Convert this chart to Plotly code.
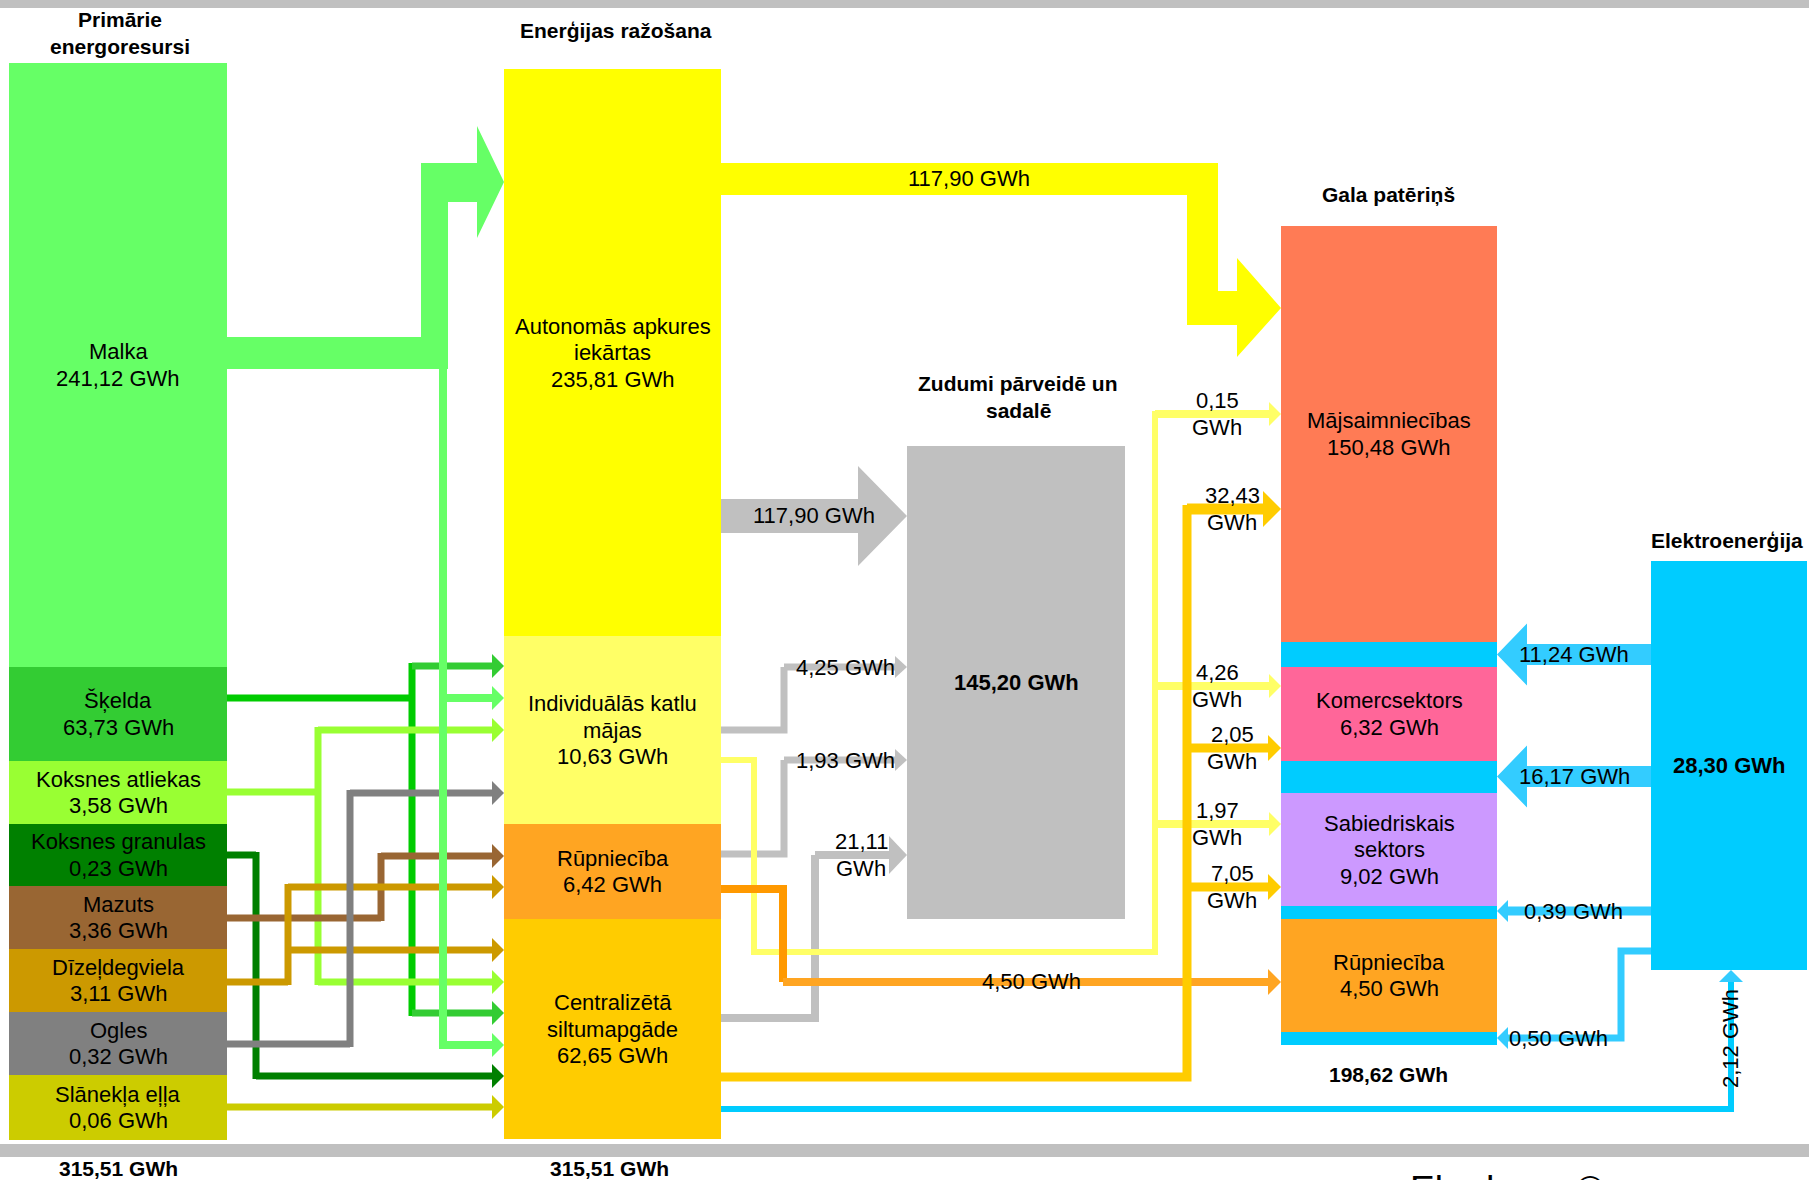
"""
Siltumenerģijas bilance - flow diagram (primary resources -> production -> final use)
drawn with Plotly shapes on a pixel-scaled axis pair.
"""

import plotly.graph_objects as go


# ---------------------------------------------------------------- data (GWh)
PRIMARY_NAMES = ["Malka", "Šķelda", "Koksnes atliekas", "Koksnes granulas",
                 "Mazuts", "Dīzeļdegviela", "Ogles", "Slānekļa eļļa"]
PRIMARY_GWH = [241.12, 63.73, 3.58, 0.23, 3.36, 3.11, 0.32, 0.06]
PRIMARY_TOTAL = 315.51

PRODUCTION_NAMES = ["Autonomās apkures<br>iekārtas", "Individuālās katlu<br>mājas",
                    "Rūpniecība", "Centralizētā<br>siltumapgāde"]
PRODUCTION_GWH = [235.81, 10.63, 6.42, 62.65]
PRODUCTION_TOTAL = 315.51

LOSSES_GWH = 145.20

FINAL_NAMES = ["Mājsaimniecības", "Komercsektors", "Sabiedriskais<br>sektors", "Rūpniecība"]
FINAL_GWH = [150.48, 6.32, 9.02, 4.50]
FINAL_TOTAL = 198.62

ELECTRICITY_GWH = 28.30

# flows
LOSS_FLOWS = [117.90, 4.25, 1.93, 21.11]      # Autonomās, Individuālās, Rūpniecība, Centralizētā -> zudumi
HOUSEHOLD_FLOW = 117.90                       # Autonomās -> Mājsaimniecības
INDIVIDUAL_FLOWS = [0.15, 4.26, 1.97]         # Individuālās -> Mājs., Komerc., Sabiedr.
DISTRICT_FLOWS = [32.43, 2.05, 7.05]          # Centralizētā -> Mājs., Komerc., Sabiedr.
INDUSTRY_FLOW = 4.50                          # Rūpniecība -> Rūpniecība
ELECTRICITY_FLOWS = [11.24, 16.17, 0.39, 0.50]
DISTRICT_TO_ELECTRICITY = 2.12

# ---------------------------------------------------------------- styles
PRIMARY_COLORS = ["#66FF66", "#33CC33", "#99FF33", "#008000",
                  "#996633", "#CC9900", "#808080", "#CCCC00"]
PRODUCTION_COLORS = ["#FFFF00", "#FFFF66", "#FFA522", "#FFCC00"]
FINAL_COLORS = ["#FF7B55", "#FF6699", "#CC99FF", "#FFA522"]
LOSS_COLOR = "#C0C0C0"
ELEC_COLOR = "#00CCFF"
ELEC_ARROW = "#33CCFF"
FONT = "Arial, Liberation Sans, sans-serif"
LABEL_SIZE = 22
TITLE_SIZE = 21
LINE_STEP = 26.5
W, H = 1809, 1180

# ---------------------------------------------------------------- geometry (px)
PRIMARY_X = (9, 227)
PRIMARY_EDGES = [63, 667, 761, 824, 886, 949, 1012, 1075, 1140]
PROD_X = (504, 721)
PROD_EDGES = [69, 636, 824, 919, 1139]
LOSS_BOX = (907, 1125, 446, 919)
FINAL_X = (1281, 1497)
FINAL_SPANS = [(226, 642), (667, 761), (793, 906), (919, 1032)]
FINAL_BOTTOM = 1045
ELEC_BOX = (1651, 1807, 561, 970)

# thin routes from primary column: (start y, trunk x, target ys, trunk colour, arrow colour)
PRIMARY_ROUTES = [
    (698, 412, [666, 1013], "#00CC00", "#33CC33"),
    (792, 318, [730, 982], "#99FF33", "#99FF33"),
    (855, 256, [1076], "#008000", "#008000"),
    (918, 381, [856], "#996633", "#996633"),
    (982, 288, [887, 950], "#CC9900", "#CC9900"),
    (1044, 350, [793], "#808080", "#808080"),
    (1107, None, [1107], "#CCCC00", "#CCCC00"),
]

shapes = []
notes = []


def fmt(v):
    return f"{v:.2f}".replace(".", ",") + " GWh"


def rect(x0, x1, y0, y1, color):
    shapes.append(dict(type="rect", xref="x", yref="y", x0=x0, x1=x1, y0=y0, y1=y1,
                       fillcolor=color, line=dict(width=0), layer="above"))


def poly(points, color):
    path = "M " + " L ".join(f"{x},{y}" for x, y in points) + " Z"
    shapes.append(dict(type="path", xref="x", yref="y", path=path,
                       fillcolor=color, line=dict(width=0), layer="above"))


def line(points, color, width):
    path = "M " + " L ".join(f"{x},{y}" for x, y in points)
    shapes.append(dict(type="path", xref="x", yref="y", path=path,
                       fillcolor="rgba(0,0,0,0)", line=dict(color=color, width=width),
                       layer="above"))


def head(x, y, color, length=12, half=12, direction="right"):
    if direction == "right":
        pts = [(x - length, y - half), (x, y), (x - length, y + half)]
    elif direction == "left":
        pts = [(x + length, y - half), (x, y), (x + length, y + half)]
    else:
        pts = [(x - half, y + length), (x, y), (x + half, y + length)]
    poly(pts, color)


def arrow_right(points, color, width, length=12, half=12):
    tip_x, tip_y = points[-1]
    line(points[:-1] + [(tip_x - length + 1, tip_y)], color, width)
    head(tip_x, tip_y, color, length, half)


def text(x, y, s, size=LABEL_SIZE, bold=False, anchor="center", angle=0, yanchor="middle"):
    # one annotation per line so the line spacing matches the original
    rows = s.split("<br>")
    for i, row in enumerate(rows):
        if bold:
            row = f"<b>{row}</b>"
        notes.append(dict(x=x, y=y + (i - (len(rows) - 1) / 2) * LINE_STEP,
                          xref="x", yref="y", text=row, showarrow=False,
                          xanchor=anchor, yanchor=yanchor, textangle=angle,
                          font=dict(family=FONT, size=size, color="black")))


# frame bars
rect(0, W, 0, 8, "#C0C0C0")
rect(0, W, 1144, 1157, "#C0C0C0")

# ---------------------------------------------------------------- columns
for i, (name, val) in enumerate(zip(PRIMARY_NAMES, PRIMARY_GWH)):
    y0, y1 = PRIMARY_EDGES[i], PRIMARY_EDGES[i + 1]
    rect(*PRIMARY_X, y0, y1, PRIMARY_COLORS[i])
    text(sum(PRIMARY_X) / 2, (y0 + y1) / 2, f"{name}<br>{fmt(val)}")

for i, (name, val) in enumerate(zip(PRODUCTION_NAMES, PRODUCTION_GWH)):
    y0, y1 = PROD_EDGES[i], PROD_EDGES[i + 1]
    rect(*PROD_X, y0, y1, PRODUCTION_COLORS[i])
    text(sum(PROD_X) / 2, (y0 + y1) / 2, f"{name}<br>{fmt(val)}")

lx0, lx1, ly0, ly1 = LOSS_BOX
rect(lx0, lx1, ly0, ly1, LOSS_COLOR)
text((lx0 + lx1) / 2, (ly0 + ly1) / 2, fmt(LOSSES_GWH), bold=True)

rect(*FINAL_X, FINAL_SPANS[0][0], FINAL_BOTTOM, ELEC_COLOR)
for i, (name, val) in enumerate(zip(FINAL_NAMES, FINAL_GWH)):
    y0, y1 = FINAL_SPANS[i]
    rect(*FINAL_X, y0, y1, FINAL_COLORS[i])
    text(sum(FINAL_X) / 2, (y0 + y1) / 2, f"{name}<br>{fmt(val)}")

ex0, ex1, ey0, ey1 = ELEC_BOX
rect(ex0, ex1, ey0, ey1, ELEC_COLOR)
text((ex0 + ex1) / 2, (ey0 + ey1) / 2, fmt(ELECTRICITY_GWH), bold=True)

# ---------------------------------------------------------------- primary -> production
px1 = PRIMARY_X[1]
tx = PROD_X[0]
for start, trunk, targets, c_trunk, c_arrow in PRIMARY_ROUTES:
    if trunk is None:
        arrow_right([(px1, start), (tx, start)], c_arrow, 7)
        continue
    line([(px1, start), (trunk, start)], c_trunk, 7)
    ys = targets + [start]
    line([(trunk, min(ys) - 3), (trunk, max(ys) + 3)], c_trunk, 7)
    for ty in targets:
        arrow_right([(trunk, ty), (tx, ty)], c_arrow, 7)

# Malka: thick band into Autonomās + thin branch down
poly([(227, 337), (421, 337), (421, 163), (477, 163), (477, 126), (504, 182),
      (477, 238), (477, 202), (448, 202), (448, 369), (227, 369)], PRIMARY_COLORS[0])
line([(443, 365), (443, 1049)], PRIMARY_COLORS[0], 8)
for ty in (698, 1045):
    arrow_right([(443, ty), (tx, ty)], PRIMARY_COLORS[0], 8)

# ---------------------------------------------------------------- production -> losses / final
# Autonomās -> Mājsaimniecības
poly([(721, 163), (1218, 163), (1218, 291), (1237, 291), (1237, 258), (1281, 308),
      (1237, 357), (1237, 325), (1187, 325), (1187, 195), (721, 195)], PRODUCTION_COLORS[0])
text(969, 178, fmt(HOUSEHOLD_FLOW))

# Autonomās -> zudumi
poly([(721, 499), (858, 499), (858, 466), (907, 516), (858, 566), (858, 533), (721, 533)],
     LOSS_COLOR)
text(814, 515, fmt(LOSS_FLOWS[0]))

# smaller loss lines
line([(721, 730), (784, 730), (784, 667)], LOSS_COLOR, 7)
arrow_right([(784, 667), (907, 667)], LOSS_COLOR, 7, 12, 11)
text(845, 667, fmt(LOSS_FLOWS[1]))
line([(721, 854), (784, 854), (784, 760)], LOSS_COLOR, 7)
arrow_right([(784, 760), (907, 760)], LOSS_COLOR, 7, 12, 11)
text(845, 760, fmt(LOSS_FLOWS[2]))
line([(721, 1018), (815, 1018), (815, 855)], LOSS_COLOR, 8)
arrow_right([(815, 855), (907, 855)], LOSS_COLOR, 8, 18, 19)
text(861, 855, fmt(LOSS_FLOWS[3]).replace(" ", "<br>"))

# Individuālās -> final
ind_c = PRODUCTION_COLORS[1]
line([(721, 760), (754, 760), (754, 952), (1155, 952), (1155, 411)], ind_c, 6)
for ty, v in zip((414, 686, 824), INDIVIDUAL_FLOWS):
    arrow_right([(1155, ty), (1281, ty)], ind_c, 8, 12, 12)
    text(1217, ty, fmt(v).replace(" ", "<br>"))

# Rūpniecība -> Rūpniecība
line([(721, 889), (783, 889), (783, 982)], "#FF9900", 8)
arrow_right([(783, 982), (1281, 982)], "#FFA522", 8, 13, 13)
text(1031, 981, fmt(INDUSTRY_FLOW))

# Centralizētā -> final
dis_c = PRODUCTION_COLORS[3]
line([(721, 1077), (1187, 1077), (1187, 505)], dis_c, 9)
for ty, v, size in zip((509, 748, 887), DISTRICT_FLOWS, (18, 13, 13)):
    arrow_right([(1187, ty), (1281, ty)], dis_c, 9 if size == 13 else 11, size, size)
    text(1232, ty, fmt(v).replace(" ", "<br>"))

# Centralizētā -> Elektroenerģija
line([(721, 1109), (1731, 1109), (1731, 980)], ELEC_COLOR, 6)
head(1731, 970, ELEC_ARROW, 12, 12, direction="up")
text(1730, 1039, fmt(DISTRICT_TO_ELECTRICITY), angle=-90)

# ---------------------------------------------------------------- electricity -> final
for (y0, y1), v in zip([(644, 665), (766, 787)], ELECTRICITY_FLOWS[:2]):
    mid = (y0 + y1) / 2
    poly([(1651, y0), (1527, y0), (1527, mid - 31), (1497, mid), (1527, mid + 31),
          (1527, y1), (1651, y1)], ELEC_ARROW)
    text(1574, mid, fmt(v))

line([(1651, 911), (1505, 911)], ELEC_ARROW, 9)
head(1497, 911, ELEC_ARROW, 11, 11, direction="left")
text(1573, 911, fmt(ELECTRICITY_FLOWS[2]))

line([(1651, 951), (1621, 951), (1621, 1038), (1505, 1038)], ELEC_ARROW, 7)
head(1497, 1038, ELEC_ARROW, 11, 11, direction="left")
text(1558, 1038, fmt(ELECTRICITY_FLOWS[3]))

# ---------------------------------------------------------------- headings
text(120, 33, "Primārie<br>energoresursi", size=TITLE_SIZE, bold=True)
text(616, 30, "Enerģijas ražošana", size=TITLE_SIZE, bold=True)
text(1018, 397, "Zudumi pārveidē un<br>sadalē", size=TITLE_SIZE, bold=True)
text(1388, 194, "Gala patēriņš", size=TITLE_SIZE, bold=True)
text(1649, 540, "Elektroenerģija", size=TITLE_SIZE, bold=True, anchor="left")
text(118, 1168, fmt(PRIMARY_TOTAL), size=TITLE_SIZE, bold=True)
text(609, 1168, fmt(PRODUCTION_TOTAL), size=TITLE_SIZE, bold=True)
text(1388, 1074, fmt(FINAL_TOTAL), size=TITLE_SIZE, bold=True)
text(1408, 1167, "Ekodoma ©", size=37, anchor="left", yanchor="top")

fig = go.Figure()
fig.update_layout(
    width=W, height=H,
    margin=dict(l=0, r=0, t=0, b=0),
    paper_bgcolor="white", plot_bgcolor="white",
    xaxis=dict(range=[0, W], visible=False, fixedrange=True),
    yaxis=dict(range=[H, 0], visible=False, fixedrange=True),
    shapes=shapes, annotations=notes, showlegend=False,
)

# page body margin would shift the figure by 8 px
fig.write_html("out.html", config={"displayModeBar": False},
               post_script="document.body.style.margin='0px';")
